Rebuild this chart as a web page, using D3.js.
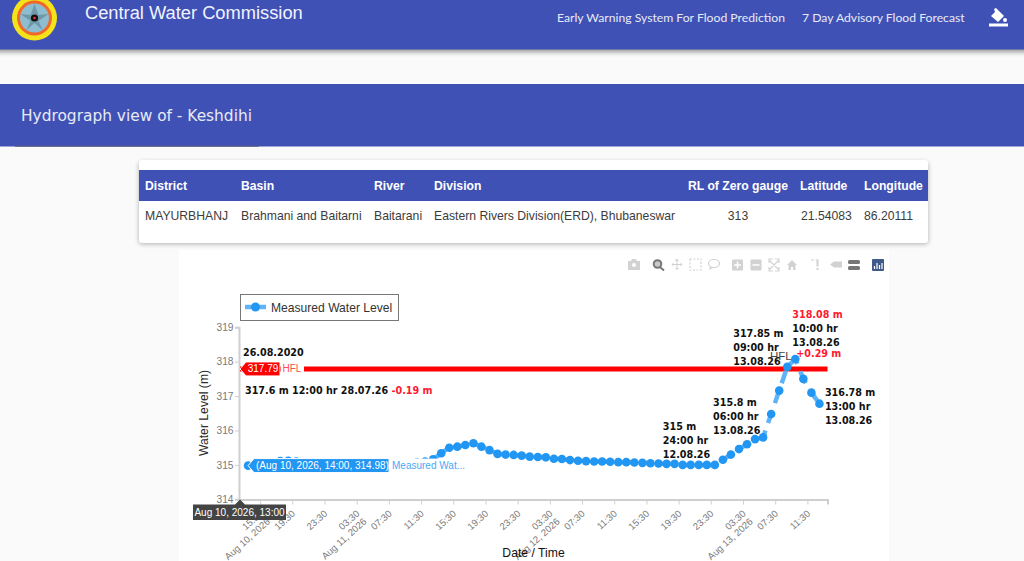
<!DOCTYPE html>
<html>
<head>
<meta charset="utf-8">
<title>Hydrograph view of - Keshdihi</title>
<script src="https://cdn.jsdelivr.net/npm/d3@7"></script>
<style>
  html, body { margin: 0; padding: 0; background: #fafafa; overflow: hidden; }
  svg { display: block; }
  .ann { font: bold 9.6px "DejaVu Sans", sans-serif; fill: #111; }
  .red { fill: #ff1a2e; }
</style>
</head>
<body>
<div id="chart-container"></div>
<script>
// table content
const tableHeaders = ["District", "Basin", "River", "Division", "RL of Zero gauge", "Latitude", "Longitude"];
const tableValues = ["MAYURBHANJ", "Brahmani and Baitarni", "Baitarani", "Eastern Rivers Division(ERD), Bhubaneswar", "313", "21.54083", "86.20111"];

// hourly measured water level, starts Aug 10 2026 14:00
const startTime = "2026-08-10T14:00";
const waterLevels = [
  314.98, 315.0, 315.02, 315.06, 315.11, 315.12, 315.1, 315.07, 315.05, 315.03,
  315.02, 315.0, 315.0, 315.0, 315.0, 315.0, 315.0, 315.0, 315.02, 315.03,
  315.05, 315.07, 315.1, 315.16, 315.34, 315.5, 315.53, 315.58, 315.63, 315.53,
  315.43, 315.32, 315.3, 315.29, 315.27, 315.24, 315.23, 315.22, 315.18, 315.17,
  315.14, 315.12, 315.11, 315.1, 315.1, 315.09, 315.08, 315.08, 315.07, 315.06,
  315.05, 315.04, 315.03, 315.03, 315.0, 315.0, 315.0, 315.0, 315.0, 315.15,
  315.3, 315.46, 315.6, 315.75, 315.8, 316.48, 317.16, 317.85, 318.08, 317.5,
  317.1, 316.78
];
const hfl = 317.79;
const yTicks = [314, 315, 316, 317, 318, 319];
const xTickTimes = [
  "2026-08-10T15:30", "2026-08-10T19:30", "2026-08-10T23:30", "2026-08-11T03:30",
  "2026-08-11T07:30", "2026-08-11T11:30", "2026-08-11T15:30", "2026-08-11T19:30",
  "2026-08-11T23:30", "2026-08-12T03:30", "2026-08-12T07:30", "2026-08-12T11:30",
  "2026-08-12T15:30", "2026-08-12T19:30", "2026-08-12T23:30", "2026-08-13T03:30",
  "2026-08-13T07:30", "2026-08-13T11:30"
];
const xDateLabels = { "2026-08-10T15:30": "Aug 10, 2026", "2026-08-11T03:30": "Aug 11, 2026", "2026-08-12T03:30": "Aug 12, 2026", "2026-08-13T03:30": "Aug 13, 2026" };

const parseTime = d3.utcParse("%Y-%m-%dT%H:%M");
const fmtTick = d3.utcFormat("%H:%M");
const t0 = parseTime(startTime);
const series = waterLevels.map((v, i) => ({ t: d3.utcHour.offset(t0, i), v: v }));

const width = 1024, height = 561;
const blue = "#3f51b5", pointBlue = "#2196f3";
const plotFont = "'Liberation Sans', sans-serif";

const svg = d3.select("#chart-container").append("svg").attr("width", width).attr("height", height);
const defs = svg.append("defs");
defs.append("filter").attr("id", "soft").attr("x", "-5%").attr("y", "-50%").attr("width", "110%").attr("height", "200%")
  .append("feGaussianBlur").attr("stdDeviation", 2.5);

svg.append("rect").attr("width", width).attr("height", height).attr("fill", "#fafafa");

// top bar
svg.append("rect").attr("x", -10).attr("y", 3).attr("width", width + 20).attr("height", 49).attr("fill", "#000").attr("opacity", 0.4).attr("filter", "url(#soft)");
svg.append("rect").attr("width", width).attr("height", 49.5).attr("fill", blue);

// logo
const logo = svg.append("g").attr("transform", "translate(34.5,18)");
logo.append("circle").attr("r", 22.5).attr("fill", "#f4e31a");
logo.append("circle").attr("r", 17.5).attr("fill", "#f0682a");
logo.append("circle").attr("r", 14.5).attr("fill", "#8fbdd0");
logo.append("path").attr("d", "M0,-14L4,-3L14,-4L4,3L8,12L0,5L-8,12L-4,3L-14,-4L-4,-3Z").attr("fill", "#5a7f90").attr("opacity", 0.6);
logo.append("circle").attr("r", 3.6).attr("fill", "#111");
logo.append("circle").attr("r", 1.3).attr("fill", "#e33");

svg.append("text").attr("x", 85).attr("y", 19).attr("fill", "#f1f3ff")
  .style("font", "18.3px 'Liberation Sans', sans-serif").text("Central Water Commission");
const navFont = "12.2px Lato, sans-serif";
svg.append("text").attr("x", 557).attr("y", 22).attr("fill", "#e8eaf6").style("font", navFont).text("Early Warning System For Flood Prediction");
svg.append("text").attr("x", 802).attr("y", 22).attr("fill", "#e8eaf6").style("font", navFont).text("7 Day Advisory Flood Forecast");

// paint bucket icon
const bucket = svg.append("g").attr("transform", "translate(989,8)").attr("fill", "#fff");
bucket.append("path").attr("d", "M5,1L7,0L15,8L9,14L2,8L6,4Z");
bucket.append("circle").attr("cx", 16).attr("cy", 12).attr("r", 2);
bucket.append("rect").attr("x", 0).attr("y", 15.5).attr("width", 19).attr("height", 3);

// title band
svg.append("rect").attr("y", 84).attr("width", width).attr("height", 62.5).attr("fill", blue);
svg.append("rect").attr("x", 15).attr("y", 145.5).attr("width", 244).attr("height", 1.2).attr("fill", "#555b80");
svg.append("text").attr("x", 21).attr("y", 121).attr("fill", "#e8eaf6")
  .style("font", "15.4px 'DejaVu Sans', sans-serif").text("Hydrograph view of - Keshdihi");

// info table card
svg.append("rect").attr("x", 139).attr("y", 162).attr("width", 789).attr("height", 82).attr("rx", 3).attr("fill", "#000").attr("opacity", 0.3).attr("filter", "url(#soft)");
svg.append("rect").attr("x", 139).attr("y", 160).attr("width", 789).attr("height", 83).attr("rx", 3).attr("fill", "#fff");
svg.append("rect").attr("x", 139).attr("y", 170).attr("width", 789).attr("height", 31).attr("fill", blue);
const colX = [145, 241, 374, 434, 688, 800, 864];
const valX = [145, 241, 374, 434, 738, 801, 864];
const valAnchor = ["start", "start", "start", "start", "middle", "start", "start"];
svg.append("g").selectAll("text").data(tableHeaders).join("text")
  .attr("x", (d, i) => colX[i]).attr("y", 189.5).attr("fill", "#fff")
  .style("font", "bold 12.2px 'Liberation Sans', sans-serif").text(d => d);
svg.append("g").selectAll("text").data(tableValues).join("text")
  .attr("x", (d, i) => valX[i]).attr("y", 220).attr("text-anchor", (d, i) => valAnchor[i]).attr("fill", "#3c3c3c")
  .style("font", "12.2px 'Liberation Sans', sans-serif").text(d => d);

// plot background
svg.append("rect").attr("x", 179).attr("y", 250).attr("width", 710).attr("height", 311).attr("fill", "#fff");

// scales
const xScale = d3.scaleUtc().domain([parseTime("2026-08-10T13:00"), parseTime("2026-08-13T14:00")]).range([240, 827.5]);
const yScale = d3.scaleLinear().domain([314, 319]).range([499.3, 327.3]);

// axes
const axisColor = "#cfcfcf", tickColor = "#7a7a7a";
const yAxis = svg.append("g").attr("transform", "translate(239,0)")
  .call(d3.axisLeft(yScale).tickValues(yTicks).tickSize(4).tickPadding(1.5).tickFormat(d3.format("d")));
const xTickDates = xTickTimes.map(parseTime);
const xAxis = svg.append("g").attr("transform", "translate(0,499.5)")
  .call(d3.axisBottom(xScale).tickValues(xTickDates).tickSize(5).tickFormat(d => fmtTick(d)));
[yAxis, xAxis].forEach(a => {
  a.select(".domain").attr("stroke", axisColor).attr("stroke-width", 2);
  a.selectAll(".tick line").attr("stroke", axisColor).attr("stroke-width", 1);
  a.selectAll("text").attr("fill", tickColor).style("font", `10.2px ${plotFont}`);
});
xAxis.selectAll(".tick text").each(function (d, i) {
  const label = xDateLabels[xTickTimes[i]];
  const el = d3.select(this).attr("text-anchor", "end").attr("y", 0).attr("dy", 0)
    .style("font-size", "9.6px")
    .attr("transform", "translate(3,15) rotate(-42)");
  if (label) {
    el.append("tspan").attr("x", 0).attr("dy", "1.1em").text(label);
  }
});

// axis titles
svg.append("text").attr("transform", "translate(208,413) rotate(-90)").attr("text-anchor", "middle").attr("fill", "#2a2a2a")
  .style("font", `12.2px ${plotFont}`).text("Water Level (m)");
svg.append("text").attr("x", 533.5).attr("y", 557).attr("text-anchor", "middle").attr("fill", "#111")
  .style("font", `12.2px ${plotFont}`).text("Date / Time");

// HFL line
svg.append("line").attr("x1", xScale.range()[0]).attr("x2", xScale.range()[1])
  .attr("y1", yScale(hfl)).attr("y2", yScale(hfl)).attr("stroke", "#ff0000").attr("stroke-width", 5);

// measured series
const line = d3.line().x(d => xScale(d.t)).y(d => yScale(d.v));
svg.append("path").datum(series).attr("d", line).attr("fill", "none")
  .attr("stroke", "#5fb3f7").attr("stroke-width", 4.5).attr("stroke-dasharray", "13,8");
svg.append("g").selectAll("circle").data(series).join("circle")
  .attr("cx", d => xScale(d.t)).attr("cy", d => yScale(d.v)).attr("r", 4.3).attr("fill", pointBlue);

// legend
svg.append("rect").attr("x", 240.5).attr("y", 294.5).attr("width", 158).attr("height", 26).attr("fill", "#fff").attr("stroke", "#777").attr("stroke-width", 1);
svg.append("line").attr("x1", 245).attr("x2", 266).attr("y1", 307).attr("y2", 307).attr("stroke", "#5fb3f7").attr("stroke-width", 4.5);
svg.append("circle").attr("cx", 255.5).attr("cy", 307).attr("r", 4.5).attr("fill", pointBlue);
svg.append("text").attr("x", 271).attr("y", 312).attr("fill", "#333").style("font", `12.1px ${plotFont}`).text("Measured Water Level");

// annotations, anchored on the point index they describe
function annotate(x, ys, lines) {
  lines.forEach((s, i) => {
    svg.append("text").attr("class", "ann").attr("x", x).attr("y", ys + i * 14.2).text(s);
  });
}
svg.append("text").attr("class", "ann").attr("x", 243).attr("y", 356).text("26.08.2020");
const prevText = svg.append("text").attr("class", "ann").attr("x", 245).attr("y", 394).text("317.6 m 12:00 hr 28.07.26 ");
prevText.append("tspan").attr("class", "red").text("-0.19 m");
annotate(xScale(series[58].t) - 52, 430, ["315 m", "24:00 hr", "12.08.26"]);
annotate(xScale(series[64].t) - 50, 406, ["315.8 m", "06:00 hr", "13.08.26"]);
annotate(xScale(series[67].t) - 54, 337, ["317.85 m", "09:00 hr", "13.08.26"]);
annotate(xScale(series[68].t) - 3, 332, ["10:00 hr", "13.08.26"]);
svg.append("text").attr("class", "ann red").attr("x", xScale(series[68].t) - 3).attr("y", 318).text("318.08 m");
svg.append("text").attr("class", "ann red").attr("x", xScale(series[68].t) + 1).attr("y", 357).text("+0.29 m");
annotate(xScale(series[71].t) + 5.5, 396, ["316.78 m", "13:00 hr", "13.08.26"]);
svg.append("text").attr("x", 770).attr("y", 359.5).attr("fill", "#444").style("font", `11.5px ${plotFont}`).text("HFL");

// hover state: HFL label
const hflY = yScale(hfl);
svg.append("rect").attr("x", 281).attr("y", hflY - 7).attr("width", 23).attr("height", 14).attr("fill", "#fff");
svg.append("text").attr("x", 282.5).attr("y", hflY + 3.5).attr("fill", "#ff4d4d").style("font", `10px ${plotFont}`).text("HFL");
svg.append("path").attr("d", `M240,${hflY}L246,${hflY - 7}H280V${hflY + 7}H246Z`).attr("fill", "#ff0000").attr("stroke", "#fff");
svg.append("text").attr("x", 263).attr("y", hflY + 3.5).attr("text-anchor", "middle").attr("fill", "#fff").style("font", `10px ${plotFont}`).text(hfl);

// hover state: measured label
const hoverPt = series[0];
const hoverY = yScale(hoverPt.v);
svg.append("rect").attr("x", 389).attr("y", hoverY - 7).attr("width", 77).attr("height", 14).attr("fill", "#fff");
svg.append("text").attr("x", 392).attr("y", hoverY + 3.5).attr("fill", "#4aa8f5").style("font", `10px ${plotFont}`).text("Measured Wat...");
svg.append("path").attr("d", `M${xScale(hoverPt.t)},${hoverY}L254,${hoverY - 7}H389V${hoverY + 7}H254Z`).attr("fill", pointBlue).attr("stroke", "#fff");
svg.append("text").attr("x", 256).attr("y", hoverY + 3.5).attr("fill", "#fff").style("font", `10px ${plotFont}`).text("(Aug 10, 2026, 14:00, 314.98)");

// hover state: x label
svg.append("path").attr("d", "M240,499.5L245,504.5H286V520H193V504.5H235Z").attr("fill", "#444");
svg.append("text").attr("x", 239.5).attr("y", 515.5).attr("text-anchor", "middle").attr("fill", "#fff").style("font", `10px ${plotFont}`).text("Aug 10, 2026, 13:00");

// modebar icons
const iconColor = "#d2d2d2";
const bar = svg.append("g").attr("fill", iconColor);
bar.append("path").attr("d", "M628,261h3l1,-2h4l1,2h3v9h-12z");
bar.append("circle").attr("cx", 634).attr("cy", 265).attr("r", 2).attr("fill", "#fff");
bar.append("circle").attr("cx", 657.5).attr("cy", 264).attr("r", 3.8).attr("fill", "#c8c8c8").attr("stroke", "#777").attr("stroke-width", 2);
bar.append("line").attr("x1", 660).attr("y1", 267).attr("x2", 664).attr("y2", 270.5).attr("stroke", "#777").attr("stroke-width", 2);
bar.append("path").attr("d", "M676,259l1,0l2,2h-1.5v3h3v-1.5l2,2l-2,2v-1.5h-3v3h1.5l-2,2l-2,-2h1.5v-3h-3v1.5l-2,-2l2,-2v1.5h3v-3h-1.5z");
bar.append("rect").attr("x", 690).attr("y", 259).attr("width", 11).attr("height", 11).attr("fill", "none").attr("stroke", iconColor).attr("stroke-width", 1.2).attr("stroke-dasharray", "2,1.5");
bar.append("ellipse").attr("cx", 714).attr("cy", 263.5).attr("rx", 5.5).attr("ry", 4).attr("fill", "none").attr("stroke", iconColor).attr("stroke-width", 1.2);
bar.append("path").attr("d", "M710,267l-1,3l4,-2z");
bar.append("rect").attr("x", 732).attr("y", 259.5).attr("width", 11).attr("height", 11).attr("rx", 1);
bar.append("path").attr("d", "M734,265h7M737.5,261.5v7").attr("stroke", "#fff").attr("stroke-width", 1.5);
bar.append("rect").attr("x", 750.5).attr("y", 259.5).attr("width", 11).attr("height", 11).attr("rx", 1);
bar.append("path").attr("d", "M752.5,265h7").attr("stroke", "#fff").attr("stroke-width", 1.5);
bar.append("path").attr("d", "M769,260l10,10M779,260l-10,10M769,263v-4h4M775,259h4v4M779,267v4h-4M773,271h-4v-4").attr("fill", "none").attr("stroke", iconColor).attr("stroke-width", 1.1);
bar.append("path").attr("d", "M787,265l5,-5l5,5h-1.5v5h-2.5v-3h-2v3h-2.5v-5z");
bar.append("path").attr("d", "M811,260h3M815.5,260h2").attr("stroke", iconColor).attr("stroke-width", 1);
bar.append("rect").attr("x", 816.5).attr("y", 259.5).attr("width", 2).attr("height", 7);
bar.append("rect").attr("x", 816.5).attr("y", 268).attr("width", 2).attr("height", 2);
bar.append("path").attr("d", "M830,264.5l4,-3h8v6h-8z");
bar.append("rect").attr("x", 848).attr("y", 260).attr("width", 12).attr("height", 4).attr("rx", 1.5).attr("fill", "#777");
bar.append("rect").attr("x", 848).attr("y", 266).attr("width", 12).attr("height", 4).attr("rx", 1.5).attr("fill", "#777");
bar.append("rect").attr("x", 872).attr("y", 259).attr("width", 12).attr("height", 12).attr("rx", 1).attr("fill", "#3f5a8a");
bar.append("path").attr("d", "M874.5,269v-3M877,269v-6M879.5,269v-4M882,269v-6").attr("stroke", "#fff").attr("stroke-width", 1.2);
</script>
</body>
</html>
